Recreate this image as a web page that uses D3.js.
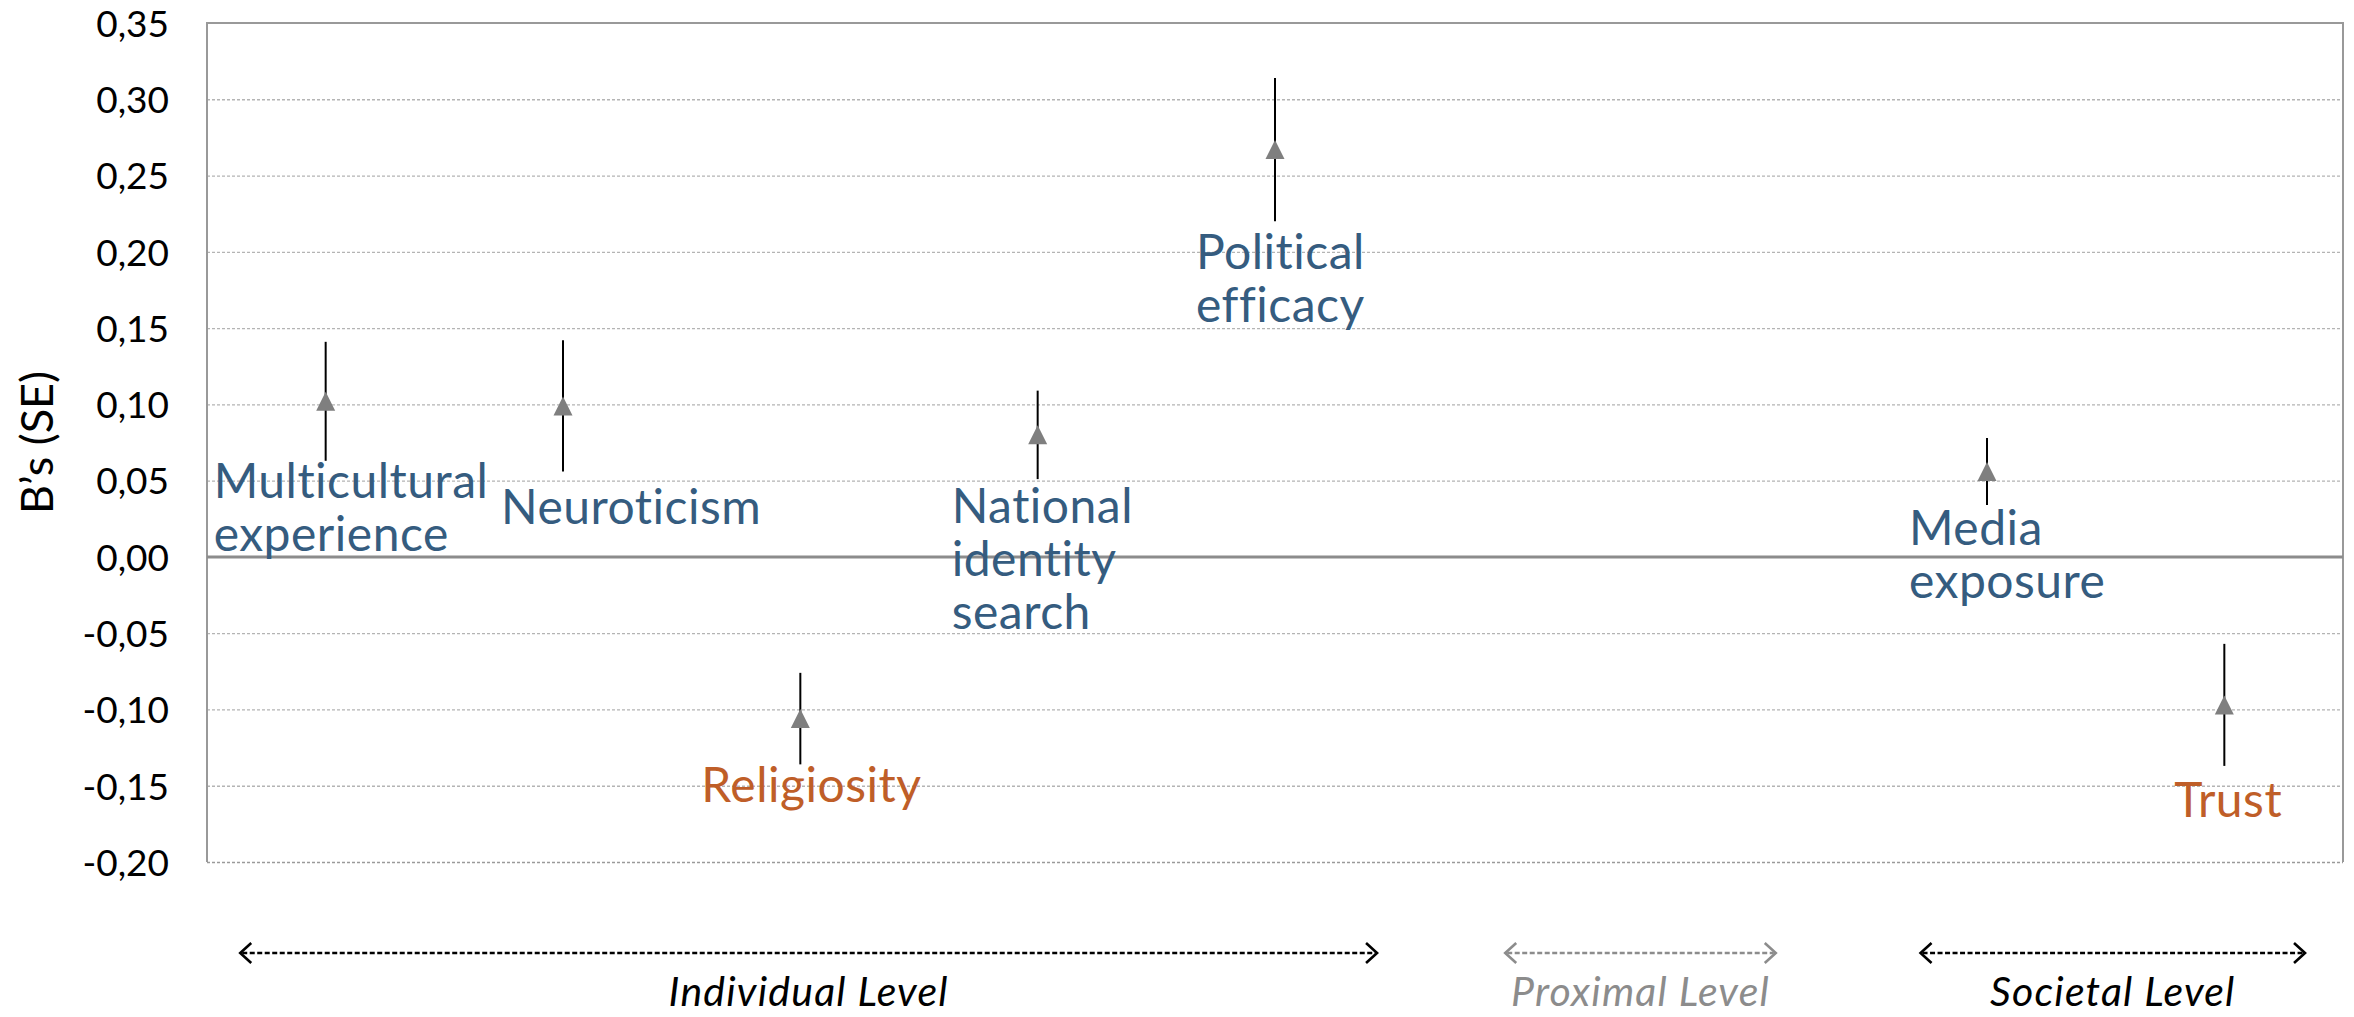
<!DOCTYPE html>
<html>
<head>
<meta charset="utf-8">
<script src="https://cdn.jsdelivr.net/npm/d3@7"></script>
<style>
  html, body { margin: 0; padding: 0; background: #ffffff; }
  svg { display: block; }
</style>
</head>
<body>
<svg id="chart" width="2354" height="1017"></svg>
<script>
// Predictor labels (one entry per line of the label)
const predictorLabels = [
  ["Multicultural", "experience"],
  ["Neuroticism"],
  ["Religiosity"],
  ["National", "identity", "search"],
  ["Political", "efficacy"],
  ["Media", "exposure"],
  ["Trust"]
];
// Horizontal slot of each predictor (1..9 along the level axis)
const predictorSlot = [1, 2, 3, 4, 5, 8, 9];
// Unstandardised coefficients and their standard errors
const coefB = [0.102, 0.099, -0.106, 0.080, 0.267, 0.056, -0.097];
const coefSE = [0.039, 0.043, 0.030, 0.029, 0.047, 0.022, 0.040];

// Y axis ticks
const yTickValues = [-0.20, -0.15, -0.10, -0.05, 0.00, 0.05, 0.10, 0.15, 0.20, 0.25, 0.30, 0.35];

// Level bands shown under the plot
const levelNames = ["Individual Level", "Proximal Level", "Societal Level"];
const levelFrom = [0.64, 5.97, 7.72];
const levelTo = [5.43, 7.11, 9.34];

// Label placement relative to each marker (px)
const labelOffsetX = [-112, -62, -99, -86, -79, -78, -50];
const labelOffsetY = [97, 118, 83, 88, 119, 74, 112];

const plot = { left: 207, right: 2343, top: 23, bottom: 862 };

const svg = d3.select("#chart");

const x = d3.scaleLinear().domain([0.5, 9.5]).range([plot.left, plot.right]);
const y = d3.scaleLinear().domain([-0.20, 0.35]).range([plot.bottom, plot.top]);

const locale = d3.formatLocale({ decimal: ",", thousands: ".", grouping: [3], currency: ["", "€"], minus: "-" });
const fmt = locale.format(".2f");

const FONT = "Lato, 'Noto Sans', sans-serif";
const BLUE = "#355C7F";
const ORANGE = "#BF5E28";

// Gridlines and tick labels
const yAxis = d3.axisLeft(y).tickValues(yTickValues).tickFormat(fmt)
  .tickSize(-(plot.right - plot.left)).tickPadding(38);
const gAxis = svg.append("g").attr("transform", `translate(${plot.left},0)`).call(yAxis);
gAxis.select(".domain").remove();
gAxis.selectAll(".tick line")
  .attr("stroke", "#b4b4b4")
  .attr("stroke-width", 1.3)
  .attr("stroke-dasharray", "3,2");
gAxis.selectAll(".tick text")
  .attr("font-family", FONT)
  .attr("font-size", 37)
  .attr("fill", "#000")
  .attr("dy", "0.36em");
gAxis.selectAll(".tick").filter(d => d === 0.35).select("line").remove();
gAxis.selectAll(".tick").filter(d => d === -0.20).select("line").attr("stroke", "#9a9a9a");

// Plot frame: left, top, right
svg.append("path")
  .attr("d", `M${plot.left},${plot.bottom}V${plot.top}H${plot.right}V${plot.bottom}`)
  .attr("fill", "none")
  .attr("stroke", "#999999")
  .attr("stroke-width", 2);

// Zero line
svg.append("line")
  .attr("x1", plot.left).attr("x2", plot.right)
  .attr("y1", y(0)).attr("y2", y(0))
  .attr("stroke", "#8c8c8c")
  .attr("stroke-width", 3);

// Axis title
svg.append("text")
  .attr("transform", `translate(53,${(plot.top + plot.bottom) / 2}) rotate(-90)`)
  .attr("text-anchor", "middle")
  .attr("font-family", FONT)
  .attr("font-size", 45)
  .attr("fill", "#000")
  .text("B’s (SE)");

const data = coefB.map((b, i) => ({
  b, se: coefSE[i], slot: predictorSlot[i], lines: predictorLabels[i],
  dx: labelOffsetX[i], dy: labelOffsetY[i]
}));

// Error bars
svg.append("g").selectAll("line").data(data).join("line")
  .attr("x1", d => x(d.slot)).attr("x2", d => x(d.slot))
  .attr("y1", d => y(d.b + d.se)).attr("y2", d => y(d.b - d.se))
  .attr("stroke", "#000")
  .attr("stroke-width", 2);

// Triangle markers centred on the coefficient
const triW = 19, triH = 19;
svg.append("g").selectAll("path").data(data).join("path")
  .attr("d", d => {
    const cx = x(d.slot), cy = y(d.b);
    return `M${cx},${cy - triH / 2}L${cx + triW / 2},${cy + triH / 2}L${cx - triW / 2},${cy + triH / 2}Z`;
  })
  .attr("fill", "#7f7f7f");

// Predictor labels
const lineHeight = 53;
const lbl = svg.append("g").selectAll("text").data(data).join("text")
  .attr("font-family", FONT)
  .attr("font-size", 48)
  .attr("letter-spacing", 0.5)
  .attr("fill", d => d.b < 0 ? ORANGE : BLUE)
  .attr("text-anchor", "start");
lbl.selectAll("tspan").data(d => d.lines.map((t, k) => ({ t, k, d }))).join("tspan")
  .attr("x", o => x(o.d.slot) + o.d.dx)
  .attr("y", o => y(o.d.b) + o.d.dy + o.k * lineHeight)
  .text(o => o.t);

// Level arrows and names
const arrowY = 953;
const levelColor = ["#000000", "#8c8c8c", "#000000"];
const levels = levelNames.map((n, i) => ({ n, a: x(levelFrom[i]), z: x(levelTo[i]), c: levelColor[i] }));
const gLev = svg.append("g");
levels.forEach(l => {
  gLev.append("line")
    .attr("x1", l.a + 2).attr("x2", l.z - 2)
    .attr("y1", arrowY).attr("y2", arrowY)
    .attr("stroke", l.c).attr("stroke-width", 2.6)
    .attr("stroke-dasharray", "5,2.5");
  gLev.append("path")
    .attr("d", `M${l.a + 11},${arrowY - 10}L${l.a},${arrowY}L${l.a + 11},${arrowY + 10}`)
    .attr("fill", "none").attr("stroke", l.c).attr("stroke-width", 2.6);
  gLev.append("path")
    .attr("d", `M${l.z - 11},${arrowY - 10}L${l.z},${arrowY}L${l.z - 11},${arrowY + 10}`)
    .attr("fill", "none").attr("stroke", l.c).attr("stroke-width", 2.6);
  gLev.append("text")
    .attr("x", (l.a + l.z) / 2).attr("y", 1006)
    .attr("text-anchor", "middle")
    .attr("font-family", FONT)
    .attr("font-style", "italic")
    .attr("font-size", 41)
    .attr("letter-spacing", 1.2)
    .attr("fill", l.c)
    .text(l.n);
});
</script>
</body>
</html>
